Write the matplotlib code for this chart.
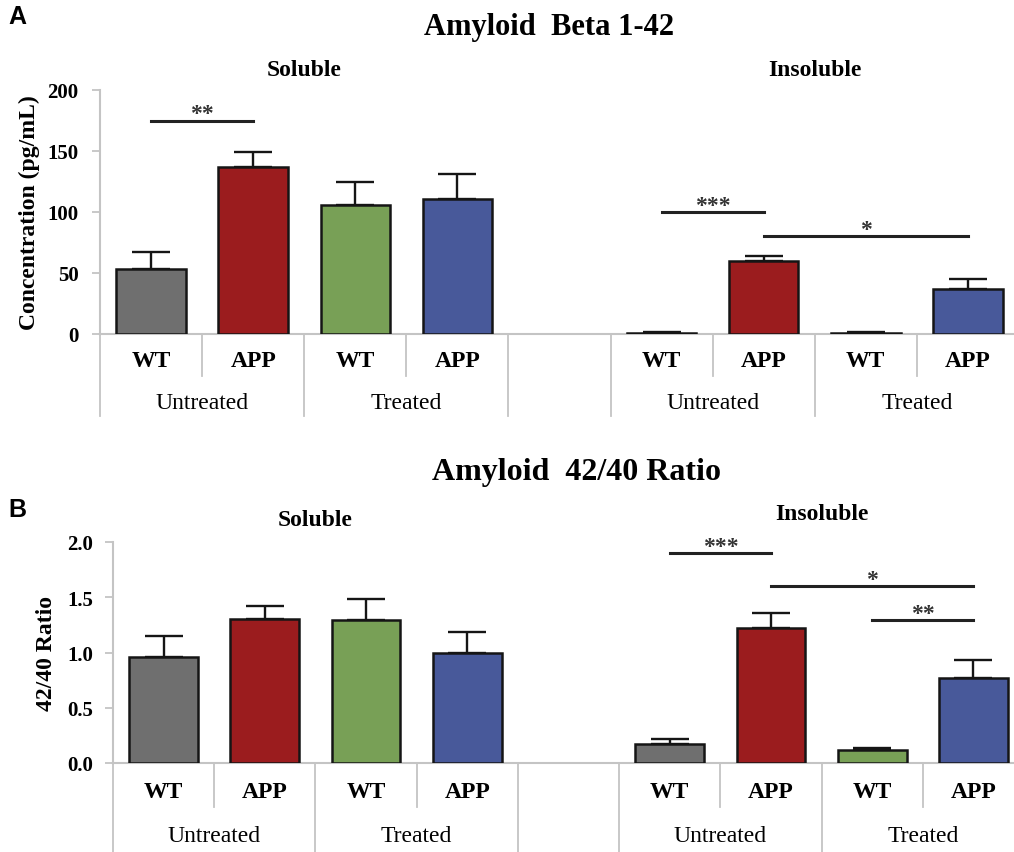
import matplotlib
matplotlib.use("Agg")
import matplotlib.pyplot as plt
import matplotlib.transforms as mtransforms

# slot layout: 4 soluble bars, one empty slot, 4 insoluble bars
slot_pos = [0, 1, 2, 3, 5, 6, 7, 8]
genotypes = ["WT", "APP", "WT", "APP", "WT", "APP", "WT", "APP"]
treatments = ["Untreated", "Treated", "Untreated", "Treated"]
fractions = ["Soluble", "Insoluble"]
bar_colors = ["#6f6f6f", "#9b1c1e", "#78a056", "#48599a"] * 2

# Panel A: Amyloid Beta 1-42 (pg/mL)
abeta_mean = [53, 137, 106, 110.5, 1, 60, 1, 37]
abeta_err = [14.5, 12, 19, 20.5, 0.5, 4, 0.5, 8]
abeta_sig = [(0, 1, 175, "**"), (4, 5, 100, "***"), (5, 7, 80, "*")]

# Panel B: 42/40 ratio
ratio_mean = [0.96, 1.30, 1.29, 1.00, 0.17, 1.22, 0.12, 0.77]
ratio_err = [0.19, 0.12, 0.19, 0.19, 0.05, 0.14, 0.02, 0.16]
ratio_sig = [(4, 5, 1.90, "***"), (5, 7, 1.60, "*"), (6, 7, 1.29, "**")]

SERIF = "Liberation Serif"
GRID = "#c4c4c4"
W, H = 1014, 853


def px_axes(left, right, y0, ytop):
    return [left / W, (H - y0) / H, (right - left) / W, (y0 - ytop) / H]


def draw_panel(fig, rect, means, errs, sig, ylim, yticks, ytick_fmt, ylabel,
               ylab_x, tick_pad, sub_y, lab_y, grp_y, short_y, long_y):
    ax = fig.add_axes(rect)
    xs = [slot_pos[i] for i in range(len(means))]
    ax.bar(xs, means, width=0.68, color=bar_colors, edgecolor="#151515",
           linewidth=1.8, zorder=3)
    ax.errorbar(xs, means, yerr=[[0] * len(errs), errs], fmt="none",
                ecolor="#151515", elinewidth=1.7, capsize=14, capthick=1.7,
                zorder=2)
    ax.set_xlim(-0.5, 8.5)
    ax.set_ylim(*ylim)
    ax.set_yticks(yticks)
    ax.set_yticklabels([ytick_fmt.format(v) for v in yticks],
                       fontsize=15, family=SERIF, fontweight="bold")
    ax.set_xticks([])
    ax.tick_params(axis="y", color=GRID, length=5.5, width=1.3, pad=tick_pad)
    for s in ["top", "right"]:
        ax.spines[s].set_visible(False)
    for s in ["left", "bottom"]:
        ax.spines[s].set_color(GRID)
        ax.spines[s].set_linewidth(1.5)
    ax.set_ylabel(ylabel, fontsize=17, family=SERIF, fontweight="bold")
    ax.yaxis.set_label_coords(ylab_x, 0.5)

    tr = mtransforms.blended_transform_factory(ax.transData, ax.transAxes)
    # category labels and separators below the axis
    for x, g in zip(slot_pos, genotypes):
        ax.text(x, lab_y, g, transform=tr, ha="center", va="center",
                fontsize=17, family=SERIF, fontweight="bold")
    for b in [0.5, 2.5, 5.5, 7.5]:
        ax.plot([b, b], [0, short_y], transform=tr, color=GRID, lw=1.3,
                clip_on=False)
    for b in [-0.5, 1.5, 3.5, 4.5, 6.5, 8.5]:
        ax.plot([b, b], [0, long_y], transform=tr, color=GRID, lw=1.3,
                clip_on=False)
    for c, t in zip([0.5, 2.5, 5.5, 7.5], treatments):
        ax.text(c, grp_y, t, transform=tr, ha="center", va="center",
                fontsize=17, family=SERIF)
    for c, f, yy in zip([1.5, 6.5], fractions, sub_y):
        ax.text(c, yy, f, transform=tr, ha="center", va="center",
                fontsize=17, family=SERIF, fontweight="bold")

    # significance bars
    for i, j, y, star in sig:
        x1, x2 = slot_pos[i], slot_pos[j]
        ax.plot([x1, x2], [y, y], color="#222222", lw=2.2, clip_on=False,
                zorder=4)
        ax.annotate(star, xy=((x1 + x2) / 2, y), xytext=(0, 1),
                    textcoords="offset points", ha="center", va="baseline",
                    fontsize=17, family=SERIF, fontweight="bold",
                    color="#333333")
    return ax


fig = plt.figure(figsize=(W / 100, H / 100), dpi=100)

draw_panel(fig, px_axes(100, 1019, 335, 91), abeta_mean, abeta_err,
           abeta_sig, (0, 200), [0, 50, 100, 150, 200], "{:g}",
           "Concentration (pg/mL)", ylab_x=-0.065, tick_pad=10,
           sub_y=[1.086, 1.086], lab_y=-0.11, grp_y=-0.28,
           short_y=-0.172, long_y=-0.336)

draw_panel(fig, px_axes(113, 1024, 764, 543), ratio_mean, ratio_err,
           ratio_sig, (0, 2.0), [0, 0.5, 1.0, 1.5, 2.0], "{:.1f}",
           "42/40 Ratio", ylab_x=-0.062, tick_pad=9,
           sub_y=[1.104, 1.127], lab_y=-0.13, grp_y=-0.33,
           short_y=-0.2, long_y=-0.45)

fig.text(549 / W, 1 - 28 / H, "Amyloid  Beta 1-42", ha="center",
         va="center", fontsize=22, family=SERIF, fontweight="bold")
fig.text(577 / W, 1 - 473 / H, "Amyloid  42/40 Ratio", ha="center",
         va="center", fontsize=23, family=SERIF, fontweight="bold")
fig.text(17 / W, 1 - 17 / H, "A", ha="center", va="center", fontsize=18,
         family="Liberation Sans", fontweight="bold")
fig.text(17 / W, 1 - 510 / H, "B", ha="center", va="center", fontsize=18,
         family="Liberation Sans", fontweight="bold")

fig.savefig("out.png", dpi=100)
